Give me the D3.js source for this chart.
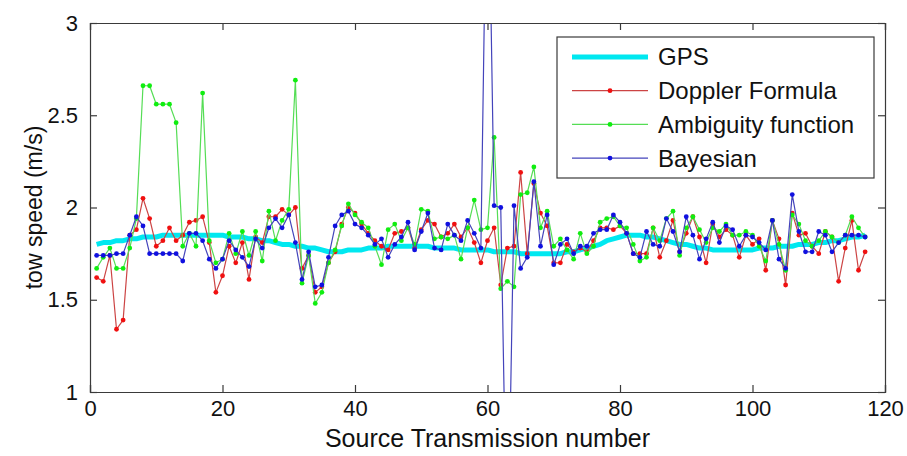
<!DOCTYPE html>
<html>
<head>
<meta charset="utf-8">
<script src="https://cdn.jsdelivr.net/npm/d3@7/dist/d3.min.js"></script>
<style>
  html, body { margin: 0; padding: 0; background: #fff; }
  svg { display: block; font-family: Arial, "Liberation Sans", Helvetica, sans-serif; }
</style>
</head>
<body>
<div id="chart"></div>
<script>
const xTicks = [0, 20, 40, 60, 80, 100, 120]
const yTicks = [1, 1.5, 2, 2.5, 3]

const gps = [
  1.80, 1.81, 1.81, 1.82, 1.82, 1.83, 1.83, 1.84, 1.84, 1.84,
  1.85, 1.85, 1.85, 1.85, 1.85, 1.85, 1.85, 1.85, 1.85, 1.85,
  1.84, 1.84, 1.84, 1.83, 1.83, 1.82, 1.82, 1.81, 1.80, 1.80,
  1.79, 1.79, 1.78, 1.78, 1.77, 1.76, 1.76, 1.76, 1.77, 1.77,
  1.77, 1.78, 1.78, 1.78, 1.79, 1.79, 1.79, 1.79, 1.79, 1.79,
  1.79, 1.78, 1.78, 1.78, 1.78, 1.77, 1.77, 1.77, 1.77, 1.77,
  1.76, 1.76, 1.76, 1.76, 1.75, 1.75, 1.75, 1.75, 1.75, 1.75,
  1.75, 1.76, 1.76, 1.77, 1.78, 1.79, 1.80, 1.82, 1.83, 1.84,
  1.85, 1.85, 1.85, 1.84, 1.84, 1.83, 1.82, 1.81, 1.80, 1.80,
  1.79, 1.78, 1.78, 1.77, 1.77, 1.77, 1.77, 1.77, 1.77, 1.77,
  1.78, 1.78, 1.78, 1.79, 1.79, 1.79, 1.80, 1.80, 1.80, 1.81,
  1.81, 1.82, 1.82, 1.83, 1.84, 1.84, 1.85,
]

const doppler = [
  1.62, 1.60, 1.74, 1.34, 1.39, 1.85, 1.88, 2.05, 1.94, 1.79,
  1.82, 1.89, 1.82, 1.85, 1.92, 1.93, 1.95, 1.81, 1.54, 1.63,
  1.79, 1.70, 1.81, 1.61, 1.84, 1.81, 1.95, 1.95, 1.99, 1.96,
  2.00, 1.67, 1.74, 1.54, 1.57, 1.70, 1.76, 1.91, 2.00, 1.97,
  1.91, 1.86, 1.82, 1.79, 1.77, 1.86, 1.87, 1.89, 1.78, 1.88,
  1.93, 1.91, 1.84, 1.86, 1.91, 1.84, 1.89, 1.81, 1.70, 1.82,
  1.89, 1.58, 1.78, 1.79, 2.19, 1.75, 2.13, 1.97, 1.90, 1.70,
  1.70, 1.80, 1.76, 1.78, 1.76, 1.82, 1.89, 1.89, 1.88, 1.90,
  1.86, 1.75, 1.75, 1.75, 1.89, 1.73, 1.82, 1.93, 1.76, 1.86,
  1.95, 1.84, 1.70, 1.91, 1.84, 1.88, 1.85, 1.73, 1.85, 1.80,
  1.83, 1.66, 1.93, 1.83, 1.58, 1.97, 1.85, 1.86, 1.79, 1.75,
  1.87, 1.84, 1.60, 1.78, 1.93, 1.66, 1.76,
]

const ambiguity = [
  1.67, 1.73, 1.78, 1.67, 1.67, 1.78, 1.94, 2.66, 2.66, 2.56,
  2.56, 2.56, 2.46, 1.79, 1.86, 1.79, 2.62, 1.82, 1.70, 1.72,
  1.86, 1.75, 1.87, 1.74, 1.87, 1.71, 1.98, 1.82, 1.93, 1.99,
  2.69, 1.59, 1.74, 1.48, 1.54, 1.70, 1.77, 1.90, 2.02, 1.96,
  1.92, 1.89, 1.79, 1.69, 1.88, 1.91, 1.82, 1.89, 1.80, 1.99,
  1.98, 1.83, 1.84, 1.83, 1.85, 1.72, 1.89, 2.04, 1.88, 1.89,
  2.38, 1.56, 1.60, 1.57, 2.07, 2.08, 2.22, 1.89, 1.98, 1.79,
  1.83, 1.77, 1.72, 1.86, 1.75, 1.79, 1.92, 1.94, 1.95, 1.90,
  1.89, 1.80, 1.71, 1.73, 1.89, 1.82, 1.94, 1.98, 1.74, 1.89,
  1.95, 1.88, 1.81, 1.89, 1.87, 1.91, 1.85, 1.85, 1.87, 1.85,
  1.79, 1.71, 1.93, 1.80, 1.66, 1.96, 1.91, 1.82, 1.79, 1.82,
  1.87, 1.84, 1.81, 1.85, 1.95, 1.89, 1.84,
]

const bayesian = [
  1.74, 1.74, 1.74, 1.75, 1.75, 1.85, 1.95, 1.90, 1.75, 1.75,
  1.75, 1.75, 1.75, 1.71, 1.86, 1.86, 1.82, 1.72, 1.67, 1.72,
  1.82, 1.77, 1.73, 1.68, 1.83, 1.78, 1.89, 1.94, 1.89, 1.96,
  1.81, 1.61, 1.76, 1.57, 1.58, 1.73, 1.90, 1.96, 1.98, 1.91,
  1.89, 1.85, 1.80, 1.83, 1.73, 1.80, 1.84, 1.92, 1.77, 1.87,
  1.97, 1.78, 1.77, 1.91, 1.85, 1.82, 1.93, 1.86, 1.78, 4.20,
  2.01, 2.00, 0.00, 2.01, 1.67, 1.73, 2.14, 1.79, 1.96, 1.69,
  1.80, 1.83, 1.75, 1.79, 1.79, 1.86, 1.88, 1.88, 1.96, 1.92,
  1.86, 1.75, 1.73, 1.87, 1.80, 1.79, 1.94, 1.87, 1.76, 1.95,
  1.85, 1.72, 1.83, 1.92, 1.81, 1.90, 1.88, 1.79, 1.85, 1.84,
  1.81, 1.77, 1.93, 1.72, 1.67, 2.07, 1.87, 1.76, 1.76, 1.87,
  1.85, 1.76, 1.81, 1.85, 1.85, 1.85, 1.84,
]

const series = [
  { name: 'GPS', values: gps, line: '#00e8f0', width: 5, marker: null },
  { name: 'Doppler Formula', values: doppler, line: '#cc4444', width: 1.2, marker: '#f01010' },
  { name: 'Ambiguity function', values: ambiguity, line: '#55dd55', width: 1.2, marker: '#10ee10' },
  { name: 'Bayesian', values: bayesian, line: '#4444bb', width: 1.2, marker: '#1010e0' },
]

const width = 907
const height = 456
const margin = { top: 23, right: 22, bottom: 64, left: 90 }
const axisColor = '#3a3a3a'
const tickLength = 7

const x = d3.scaleLinear().domain([0, 120]).range([margin.left, width - margin.right])
const y = d3.scaleLinear().domain([1, 3]).range([height - margin.bottom, margin.top])

const svg = d3.select('#chart')
  .append('svg')
  .attr('width', width)
  .attr('height', height)

svg.append('defs').append('clipPath')
  .attr('id', 'plot-clip')
  .append('rect')
  .attr('x', x(0))
  .attr('y', y(3))
  .attr('width', x(120) - x(0))
  .attr('height', y(1) - y(3))

const plot = svg.append('g').attr('clip-path', 'url(#plot-clip)')

const line = d3.line()
  .x((d, i) => x(i + 1))
  .y(d => y(d))

series.forEach(s => {
  plot.append('path')
    .datum(s.values)
    .attr('fill', 'none')
    .attr('stroke', s.line)
    .attr('stroke-width', s.width)
    .attr('stroke-linejoin', 'round')
    .attr('d', line)

  if (s.marker) {
    plot.append('g')
      .selectAll('circle')
      .data(s.values)
      .join('circle')
      .attr('cx', (d, i) => x(i + 1))
      .attr('cy', d => y(d))
      .attr('r', 2.4)
      .attr('fill', s.marker)
  }
})

// axes, matlab style: ticks inside on all four sides
const bottomAxis = d3.axisBottom(x).tickValues(xTicks).tickSize(-tickLength).tickPadding(12)
const topAxis = d3.axisTop(x).tickValues(xTicks).tickSize(-tickLength).tickFormat('')
const leftAxis = d3.axisLeft(y).tickValues(yTicks).tickSize(-tickLength).tickPadding(12).tickFormat(d3.format('~g'))
const rightAxis = d3.axisRight(y).tickValues(yTicks).tickSize(-tickLength).tickFormat('')

const styleAxis = g => {
  g.select('.domain').attr('stroke', axisColor).attr('stroke-width', 1.2)
  g.selectAll('.tick line').attr('stroke', axisColor).attr('stroke-width', 1.2)
  g.selectAll('.tick text').attr('fill', '#111').style('font-size', '22px')
}

svg.append('g')
  .attr('transform', `translate(0,${y(1)})`)
  .call(bottomAxis)
  .call(styleAxis)
  .call(g => g.selectAll('.tick text').attr('dy', '0.71em').attr('y', tickLength + 1))

svg.append('g')
  .attr('transform', `translate(0,${y(3)})`)
  .call(topAxis)
  .call(styleAxis)

svg.append('g')
  .attr('transform', `translate(${x(0)},0)`)
  .call(leftAxis)
  .call(styleAxis)

svg.append('g')
  .attr('transform', `translate(${x(120)},0)`)
  .call(rightAxis)
  .call(styleAxis)

svg.selectAll('.domain').attr('fill', 'none')

svg.append('text')
  .attr('x', (x(0) + x(120)) / 2)
  .attr('y', 447)
  .attr('text-anchor', 'middle')
  .attr('fill', '#111')
  .style('font-size', '25px')
  .text('Source Transmission number')

svg.append('text')
  .attr('transform', `translate(42,${(y(1) + y(3)) / 2}) rotate(-90)`)
  .attr('text-anchor', 'middle')
  .attr('fill', '#111')
  .style('font-size', '23px')
  .text('tow speed (m/s)')

// legend
const legend = svg.append('g')
legend.append('rect')
  .attr('x', 557)
  .attr('y', 37)
  .attr('width', 317)
  .attr('height', 141)
  .attr('fill', '#fff')
  .attr('stroke', axisColor)
  .attr('stroke-width', 1.2)

const entry = legend.selectAll('g.entry')
  .data(series)
  .join('g')
  .attr('class', 'entry')
  .attr('transform', (d, i) => `translate(0,${57 + i * 33.7})`)

entry.append('line')
  .attr('x1', 572)
  .attr('x2', 648)
  .attr('stroke', d => d.line)
  .attr('stroke-width', d => d.width)

entry.filter(d => d.marker)
  .append('circle')
  .attr('cx', 610)
  .attr('r', 2.4)
  .attr('fill', d => d.marker)

entry.append('text')
  .attr('x', 658)
  .attr('dy', '0.35em')
  .attr('fill', '#111')
  .style('font-size', '24px')
  .text(d => d.name)
</script>
</body>
</html>
